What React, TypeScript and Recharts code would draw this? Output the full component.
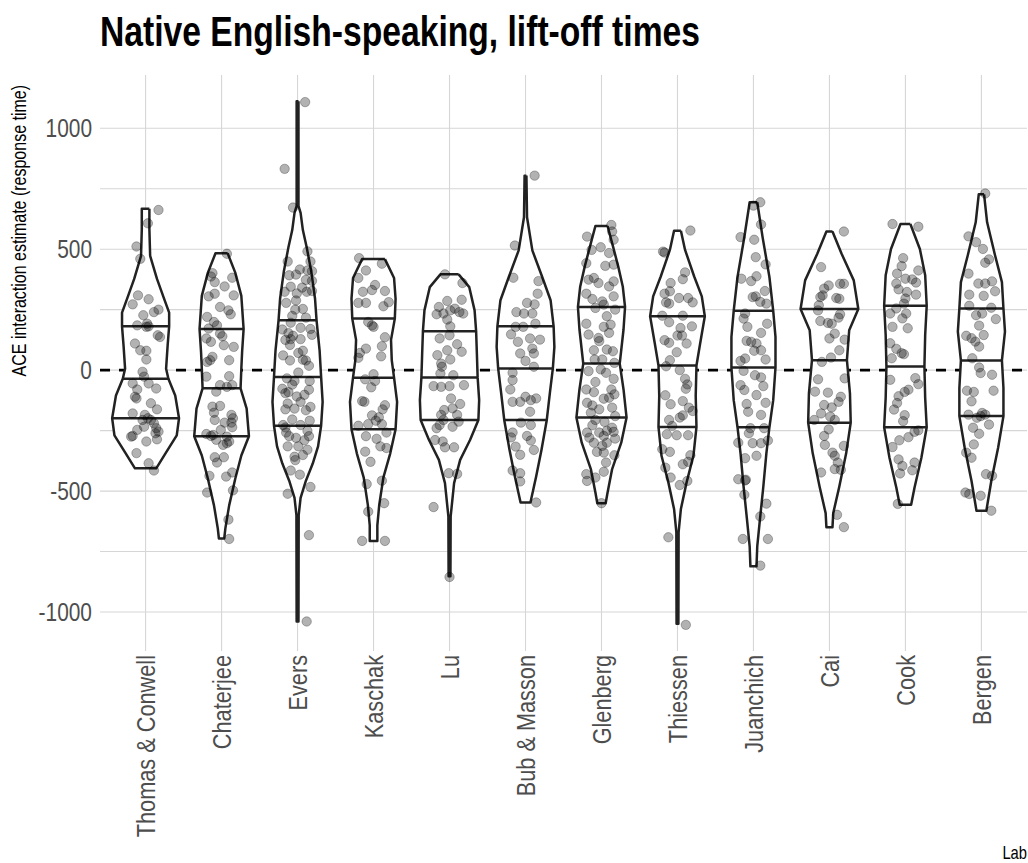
import React from 'react';
import { ScatterChart, Scatter, XAxis, YAxis, CartesianGrid } from 'recharts';

const labs = [
  'Thomas & Conwell', 'Chaterjee', 'Evers', 'Kaschak', 'Lu', 'Bub & Masson',
  'Glenberg', 'Thiessen', 'Juanchich', 'Cai', 'Cook', 'Bergen',
];
const labTicks = [1, 2, 3, 4, 5, 6, 7, 8, 9, 10, 11, 12];
const yTicks = [-1000, -750, -500, -250, 0, 250, 500, 750, 1000];
const yDomain = [-1161, 1220];
const xDomain = [0.4, 12.6];

// violin outlines: [estimate, half width in lab units], top to bottom
const violinThomas = [[667,0.05],[582,0.05],[472,0.06],[377,0.15],[307,0.23],[238,0.31],[181,0.31],[101,0.29],[6,0.27],[-36,0.30],[-105,0.39],[-199,0.44],[-270,0.41],[-340,0.27],[-406,0.14]];
const violinChaterjee = [[483,0.08],[403,0.18],[307,0.26],[170,0.29],[74,0.27],[6,0.26],[-75,0.25],[-159,0.33],[-273,0.36],[-353,0.26],[-449,0.18],[-559,0.10],[-654,0.05],[-696,0.035]];
const violinEvers = [[1112,0.012],[679,0.012],[650,0.04],[579,0.07],[508,0.12],[409,0.18],[295,0.23],[206,0.25],[82,0.29],[-28,0.31],[-131,0.33],[-230,0.31],[-315,0.27],[-386,0.20],[-457,0.11],[-528,0.04],[-599,0.015],[-1039,0.012]];
const violinKaschak = [[459,0.15],[381,0.27],[295,0.29],[213,0.28],[125,0.23],[40,0.24],[-31,0.27],[-131,0.31],[-244,0.29],[-344,0.22],[-443,0.13],[-557,0.075],[-642,0.05],[-706,0.05]];
const violinLu = [[396,0.12],[343,0.26],[247,0.33],[161,0.35],[69,0.36],[-30,0.37],[-124,0.39],[-206,0.38],[-289,0.27],[-371,0.14],[-467,0.06],[-605,0.015],[-852,0.012]];
const violinBub = [[804,0.012],[632,0.02],[495,0.09],[385,0.22],[289,0.33],[181,0.37],[96,0.38],[7,0.36],[-96,0.32],[-206,0.28],[-330,0.21],[-440,0.14],[-547,0.065]];
const violinGlenberg = [[596,0.08],[525,0.14],[429,0.22],[346,0.28],[261,0.31],[168,0.29],[27,0.24],[-80,0.29],[-196,0.33],[-300,0.26],[-409,0.14],[-506,0.08],[-550,0.055]];
const violinThiessen = [[576,0.045],[497,0.10],[387,0.22],[305,0.32],[223,0.36],[113,0.30],[19,0.25],[-107,0.24],[-235,0.25],[-354,0.21],[-464,0.12],[-574,0.045],[-670,0.015],[-1048,0.012]];
const violinJuanchich = [[694,0.05],[550,0.12],[385,0.21],[245,0.26],[137,0.29],[11,0.29],[-124,0.26],[-236,0.21],[-344,0.17],[-481,0.13],[-618,0.085],[-728,0.05],[-811,0.04]];
const violinCai = [[573,0.04],[481,0.16],[371,0.32],[253,0.38],[165,0.26],[41,0.23],[-96,0.27],[-217,0.28],[-344,0.22],[-481,0.13],[-591,0.05],[-649,0.04]];
const violinCook = [[604,0.065],[501,0.19],[392,0.26],[266,0.28],[145,0.26],[15,0.25],[-115,0.26],[-236,0.28],[-362,0.21],[-485,0.12],[-556,0.075]];
const violinBergen = [[727,0.035],[611,0.075],[474,0.18],[364,0.27],[255,0.29],[159,0.31],[40,0.27],[-74,0.29],[-190,0.29],[-321,0.22],[-458,0.13],[-581,0.065]];

// quartile lines: [estimate, half width]
const quartThomas = [[181,0.31],[-36,0.30],[-199,0.44]];
const quartChaterjee = [[170,0.29],[-75,0.25],[-273,0.36]];
const quartEvers = [[206,0.25],[-28,0.31],[-230,0.31]];
const quartKaschak = [[213,0.28],[-31,0.27],[-244,0.29]];
const quartLu = [[161,0.35],[-30,0.37],[-206,0.38]];
const quartBub = [[181,0.37],[7,0.36],[-206,0.28]];
const quartGlenberg = [[261,0.31],[27,0.24],[-196,0.33]];
const quartThiessen = [[223,0.36],[19,0.25],[-235,0.25]];
const quartJuanchich = [[245,0.26],[11,0.29],[-236,0.21]];
const quartCai = [[253,0.38],[41,0.23],[-217,0.28]];
const quartCook = [[266,0.28],[15,0.25],[-236,0.28]];
const quartBergen = [[255,0.29],[40,0.27],[-190,0.29]];

// jittered estimates: [horizontal jitter, estimate]
const ptsThomas = [[0.17,662],[0.03,607],[-0.12,511],[-0.07,460],[-0.10,309],[-0.17,272],[0.04,293],[-0.03,227],[0.11,240],[0.17,250],[0.02,192],[0.01,179],[0.04,181],[-0.11,185],[0.16,144],[0.19,137],[-0.14,110],[-0.07,82],[0.01,80],[0.01,44],[-0.04,-7],[-0.02,-27],[-0.17,-55],[0.04,-55],[0.14,-76],[-0.11,-80],[-0.14,-110],[-0.12,-117],[0.07,-137],[0.15,-162],[-0.17,-179],[-0.01,-185],[0.03,-199],[-0.04,-206],[0.11,-220],[0.14,-240],[0.17,-254],[-0.19,-275],[-0.11,-247],[0.01,-295],[0.15,-286],[-0.12,-343],[0.04,-385],[0.11,-415],[-0.17,-272],[0.13,-261],[-0.02,-234],[0.07,-206]];
const ptsChaterjee = [[0.07,481],[-0.12,401],[-0.14,387],[-0.09,364],[0.04,346],[0.14,382],[-0.17,305],[-0.09,316],[0.16,309],[-0.02,261],[0.09,247],[0.12,231],[-0.19,220],[-0.10,199],[-0.06,185],[-0.17,172],[-0.02,151],[0.01,140],[-0.14,117],[0.03,103],[0.16,96],[-0.12,55],[-0.19,34],[-0.15,41],[0.10,41],[0.10,-25],[-0.20,-27],[-0.02,-62],[0.07,-69],[0.14,-62],[-0.07,-89],[-0.12,-151],[-0.02,-148],[-0.10,-176],[0.13,-185],[0.15,-199],[-0.09,-206],[0.04,-217],[0.14,-236],[-0.01,-247],[-0.20,-264],[-0.14,-272],[-0.11,-268],[0.07,-275],[-0.07,-288],[0.07,-302],[0.02,-309],[0.10,-295],[-0.09,-360],[0.03,-360],[-0.06,-382],[-0.16,-437],[0.06,-440],[0.14,-423],[-0.19,-506],[0.15,-497],[0.09,-618],[0.10,-698],[0.13,-217],[-0.20,131]];
const ptsEvers = [[0.10,1108],[-0.17,832],[-0.06,672],[0.13,491],[-0.13,449],[0.17,449],[0.03,416],[0.13,412],[-0.11,392],[-0.02,395],[0.19,409],[0.11,373],[-0.09,345],[0.06,341],[0.19,327],[-0.17,324],[-0.01,317],[0.12,324],[-0.02,288],[-0.15,278],[-0.03,250],[0.11,217],[-0.09,196],[0.04,175],[0.17,170],[-0.12,153],[-0.06,142],[-0.09,128],[0.04,128],[0.19,146],[-0.16,125],[-0.10,104],[0.07,80],[-0.19,61],[-0.10,40],[0.07,43],[0.11,40],[0.15,18],[0.01,-10],[-0.14,-34],[-0.04,-45],[0.16,-45],[-0.20,-77],[-0.12,-91],[-0.16,-95],[0.15,-81],[-0.01,-109],[0.04,-131],[0.17,-152],[-0.16,-162],[-0.04,-159],[0.11,-166],[-0.07,-204],[-0.19,-227],[-0.16,-237],[0.16,-209],[0.04,-227],[0.13,-251],[-0.11,-273],[-0.02,-280],[0.09,-290],[-0.13,-315],[0.01,-315],[0.07,-351],[-0.03,-372],[-0.09,-415],[0.03,-432],[-0.13,-511],[0.17,-483],[0.15,-682],[0.12,-1039],[-0.07,224],[0.07,253],[-0.13,-138],[0.13,-329],[-0.04,-358],[0.19,369],[-0.20,168],[0.01,71],[-0.07,-60],[0.09,-102],[-0.15,-258],[0.15,-273]];
const ptsKaschak = [[-0.19,463],[0.11,440],[-0.10,412],[-0.20,381],[0.02,352],[-0.14,324],[-0.02,331],[0.15,327],[-0.20,278],[-0.10,278],[0.20,281],[0.13,264],[-0.07,199],[-0.02,185],[0.00,179],[0.15,136],[0.11,99],[-0.10,89],[-0.20,51],[0.10,57],[-0.11,-38],[0.00,-17],[0.02,-45],[-0.03,-71],[-0.15,-128],[-0.12,-131],[0.15,-145],[0.12,-162],[-0.02,-187],[0.07,-195],[0.03,-209],[-0.20,-230],[-0.07,-223],[0.17,-258],[0.11,-223],[-0.10,-273],[0.09,-315],[0.17,-322],[-0.11,-337],[-0.04,-379],[-0.09,-471],[0.11,-457],[0.14,-550],[-0.07,-585],[-0.15,-706],[0.15,-706],[0.04,-284],[-0.18,71]];
const ptsLu = [[-0.06,396],[0.17,360],[-0.03,286],[0.16,291],[-0.14,261],[-0.17,231],[-0.08,234],[0.01,247],[0.07,254],[0.13,240],[0.18,234],[0.01,181],[0.00,144],[-0.13,131],[0.10,107],[0.16,76],[-0.16,62],[-0.03,82],[0.01,44],[-0.11,27],[-0.10,14],[-0.12,-14],[0.05,-21],[-0.21,-66],[-0.11,-69],[0.00,-66],[0.19,-62],[0.02,-117],[0.14,-140],[-0.07,-165],[0.04,-158],[-0.11,-185],[0.10,-185],[-0.08,-206],[0.12,-213],[-0.17,-240],[-0.13,-227],[-0.19,-289],[-0.09,-295],[0.06,-319],[-0.06,-319],[-0.01,-426],[0.10,-429],[-0.21,-566],[0.00,-855],[-0.03,209],[0.04,-234]];
const ptsBub = [[0.12,804],[-0.14,515],[-0.16,382],[0.17,368],[0.16,316],[0.02,278],[0.12,272],[-0.12,240],[-0.02,234],[0.09,234],[0.13,192],[-0.13,179],[-0.03,179],[-0.19,148],[-0.10,117],[0.06,131],[0.19,126],[0.09,89],[-0.07,69],[0.00,38],[0.11,14],[-0.17,-11],[-0.17,-41],[-0.20,-80],[0.00,-110],[0.14,-117],[-0.17,-131],[-0.07,-131],[0.07,-124],[0.06,-172],[-0.06,-217],[0.07,-227],[-0.17,-258],[-0.19,-278],[0.02,-272],[0.07,-291],[-0.13,-316],[0.11,-330],[-0.07,-350],[-0.17,-415],[-0.07,-460],[0.14,-547],[-0.07,-426],[0.11,69]];
const ptsGlenberg = [[0.13,600],[-0.19,552],[0.14,573],[0.16,539],[-0.13,497],[-0.01,508],[-0.20,442],[0.05,431],[0.16,436],[-0.10,381],[-0.04,360],[0.10,346],[0.16,367],[-0.20,316],[-0.12,294],[0.01,284],[0.03,271],[-0.08,257],[0.16,305],[0.18,250],[0.07,223],[-0.20,192],[0.03,179],[0.12,188],[-0.17,147],[-0.04,133],[-0.03,120],[0.10,154],[-0.10,82],[0.15,78],[0.07,85],[0.01,44],[0.17,30],[-0.17,-4],[-0.01,3],[0.06,-11],[0.16,-36],[-0.08,-49],[-0.20,-80],[-0.10,-91],[0.13,-80],[0.17,-100],[0.03,-118],[0.10,-114],[-0.19,-135],[-0.12,-146],[0.14,-155],[-0.03,-162],[0.18,-190],[-0.08,-206],[0.04,-214],[-0.12,-228],[0.14,-238],[-0.19,-258],[-0.03,-258],[0.07,-251],[0.16,-255],[0.03,-272],[-0.16,-279],[-0.10,-300],[0.01,-313],[0.07,-300],[0.18,-283],[-0.06,-338],[0.17,-352],[0.06,-382],[0.03,-420],[-0.20,-430],[-0.08,-444],[-0.19,-458],[0.00,-550],[0.03,-341],[-0.17,374],[0.10,484],[-0.09,44],[-0.14,-176]];
const ptsThiessen = [[0.17,577],[-0.19,490],[-0.17,486],[0.10,404],[0.07,376],[-0.09,360],[-0.10,326],[-0.15,280],[-0.11,275],[0.02,298],[0.14,298],[0.20,280],[-0.20,225],[0.07,225],[-0.11,198],[0.04,174],[0.19,181],[-0.17,124],[-0.11,113],[0.00,143],[0.12,110],[-0.01,74],[-0.15,16],[-0.10,41],[0.03,0],[0.10,-36],[0.13,-59],[0.11,-77],[-0.16,-104],[-0.09,-141],[0.07,-128],[0.15,-155],[0.20,-169],[0.03,-196],[0.07,-187],[-0.11,-206],[0.14,-269],[-0.14,-265],[-0.01,-269],[-0.20,-327],[-0.10,-338],[0.17,-352],[0.14,-379],[0.07,-389],[-0.16,-403],[-0.09,-444],[0.03,-475],[0.13,-458],[-0.12,-691],[0.11,-1053],[0.06,143],[-0.07,-231],[-0.17,316]];
const ptsJuanchich = [[0.09,694],[0.00,680],[0.10,602],[-0.17,550],[0.01,539],[0.03,467],[0.16,437],[-0.16,378],[-0.03,368],[0.04,388],[0.15,327],[-0.01,302],[0.03,305],[0.09,282],[0.17,275],[-0.11,234],[-0.13,213],[0.18,192],[-0.08,179],[0.10,154],[-0.09,121],[-0.03,117],[0.04,110],[0.10,82],[0.01,80],[-0.17,38],[-0.11,48],[0.16,44],[-0.13,-3],[0.02,-21],[0.10,-30],[-0.17,-62],[-0.12,-82],[0.13,-66],[0.04,-103],[0.16,-135],[-0.09,-140],[-0.07,-172],[0.10,-185],[-0.04,-240],[0.14,-240],[-0.20,-300],[-0.01,-302],[0.10,-302],[0.19,-291],[-0.06,-261],[0.04,-354],[-0.11,-364],[-0.20,-451],[-0.11,-456],[-0.12,-515],[0.17,-552],[0.09,-605],[-0.14,-698],[0.19,-698],[0.09,-808],[-0.10,-453]];
const ptsCai = [[0.19,573],[-0.11,426],[-0.01,350],[0.14,357],[0.19,357],[-0.07,337],[-0.12,302],[-0.09,309],[0.09,298],[0.13,295],[-0.15,247],[0.14,231],[0.12,217],[-0.12,203],[-0.02,195],[0.03,192],[0.07,151],[0.20,126],[0.00,131],[0.13,82],[0.02,52],[-0.10,34],[-0.15,-38],[0.20,-34],[-0.02,-93],[-0.19,-89],[0.15,-110],[0.12,-131],[-0.07,-144],[0.03,-154],[-0.11,-179],[0.01,-192],[0.07,-206],[-0.01,-245],[-0.07,-272],[-0.06,-309],[0.19,-313],[0.04,-341],[0.07,-354],[0.11,-382],[0.07,-409],[0.15,-412],[-0.11,-423],[0.10,-598],[0.19,-649],[-0.14,268],[-0.20,-206]];
const ptsCook = [[-0.17,604],[0.17,593],[-0.03,463],[-0.05,430],[0.17,412],[-0.11,399],[0.00,378],[0.09,375],[0.14,362],[-0.12,358],[-0.09,334],[0.02,323],[0.14,312],[-0.02,275],[-0.12,255],[-0.20,234],[0.01,234],[-0.04,214],[-0.17,179],[0.03,173],[-0.20,111],[-0.12,88],[-0.02,66],[-0.05,70],[-0.18,49],[-0.20,-40],[0.13,-33],[0.17,-58],[0.04,-81],[-0.01,-90],[-0.09,-108],[-0.11,-136],[-0.15,-163],[-0.01,-186],[-0.03,-211],[0.12,-255],[0.17,-249],[0.04,-277],[-0.08,-290],[-0.17,-318],[-0.09,-369],[0.12,-382],[-0.04,-396],[0.09,-414],[-0.07,-427],[-0.10,-553],[0.00,296]];
const ptsBergen = [[0.05,730],[-0.17,553],[-0.07,529],[0.02,501],[0.05,444],[0.10,458],[-0.17,399],[-0.04,358],[0.05,358],[0.14,367],[0.18,326],[-0.16,312],[0.03,307],[0.13,258],[-0.16,266],[-0.07,227],[0.01,234],[0.19,211],[-0.03,184],[-0.20,142],[-0.13,132],[-0.08,118],[0.03,145],[-0.03,97],[-0.12,49],[-0.03,11],[-0.01,-12],[0.14,-19],[0.16,-85],[-0.19,-85],[-0.10,-90],[-0.13,-129],[0.01,-177],[-0.01,-190],[-0.06,-197],[0.10,-225],[-0.17,-184],[-0.11,-238],[-0.03,-263],[-0.10,-307],[-0.20,-341],[-0.13,-362],[0.06,-430],[0.14,-437],[-0.21,-506],[-0.16,-512],[-0.01,-519],[0.13,-581],[0.05,-184]];

const violins = [violinThomas, violinChaterjee, violinEvers, violinKaschak, violinLu, violinBub, violinGlenberg, violinThiessen, violinJuanchich, violinCai, violinCook, violinBergen];
const quartiles = [quartThomas, quartChaterjee, quartEvers, quartKaschak, quartLu, quartBub, quartGlenberg, quartThiessen, quartJuanchich, quartCai, quartCook, quartBergen];
const points = [ptsThomas, ptsChaterjee, ptsEvers, ptsKaschak, ptsLu, ptsBub, ptsGlenberg, ptsThiessen, ptsJuanchich, ptsCai, ptsCook, ptsBergen];

const FONT = '"Liberation Sans", Arial, Helvetica, sans-serif';
const NARROW = 0.82;
const INK = '#222222';

// closed outline: right side going down, left side coming back up
const outline = (profile: number[][], pos: number) => {
  const right = profile.map(([v, w]) => ({ x: pos + w, y: v }));
  const left = [...profile].reverse().map(([v, w]) => ({ x: pos - w, y: v }));
  return [...right, ...left, right[0]];
};

const zeroLine = [{ x: xDomain[0], y: 0 }, { x: xDomain[1], y: 0 }];

// grid only at the tick values (no lines on the panel edges)
const hGrid = ({ offset }: any) =>
  yTicks.map((t) => offset.top + ((yDomain[1] - t) / (yDomain[1] - yDomain[0])) * offset.height);
const vGrid = ({ offset }: any) =>
  labTicks.map((t) => offset.left + ((t - xDomain[0]) / (xDomain[1] - xDomain[0])) * offset.width);

const noShape = () => <g />;

const dot = (p: any) => (
  <circle cx={p.cx} cy={p.cy} r={4.7} fill="#000" fillOpacity={0.3}
    stroke="#000" strokeOpacity={0.3} strokeWidth={0.9} />
);

const XTick = (props: any) => {
  const { x, payload } = props;
  const name = labs[payload.value - 1] ?? '';
  return (
    <g transform={`translate(${x},655) rotate(-90) scale(${NARROW},1)`}>
      <text x={0} y={0} dy="0.36em" textAnchor="end" fontFamily={FONT} fontSize={26.5} fill="#4d4d4d">
        {name}
      </text>
    </g>
  );
};

const YTick = (props: any) => {
  const { y, payload } = props;
  const v = payload.value;
  if (v % 500 !== 0) return <g />;
  return (
    <g transform={`translate(92,${y}) scale(${NARROW},1)`}>
      <text x={0} y={0} dy="0.36em" textAnchor="end" fontFamily={FONT} fontSize={25.5} fill="#4d4d4d">
        {v}
      </text>
    </g>
  );
};

export default function App() {
  return (
    <div style={{ position: 'relative', width: 1028, height: 863, background: '#fff' }}>
      <style>{'body{margin:0;}'}</style>
      <ScatterChart width={1028} height={863} margin={{ top: 75, right: 1, bottom: 32, left: 0 }}>
        <CartesianGrid stroke="#d6d6d6" strokeWidth={1.1}
          horizontalCoordinatesGenerator={hGrid} verticalCoordinatesGenerator={vGrid} />
        <XAxis type="number" dataKey="x" domain={xDomain} ticks={labTicks} interval={0}
          allowDataOverflow axisLine={false} tickLine={false} height={180} tick={<XTick />} />
        <YAxis type="number" dataKey="y" domain={yDomain} ticks={yTicks} interval={0}
          allowDataOverflow axisLine={false} tickLine={false} width={100} tick={<YTick />} />
        <Scatter data={zeroLine} isAnimationActive={false} shape={noShape} lineType="joint"
          line={{ stroke: '#000', strokeWidth: 2.6, strokeDasharray: '10 9', fill: 'none' }} />
        {violins.map((v, i) => (
          <Scatter key={`v${i}`} data={outline(v, i + 1)} isAnimationActive={false} shape={noShape}
            lineType="joint" line={{ stroke: INK, strokeWidth: 2.5, fill: '#ffffff', strokeLinejoin: 'round' }} />
        ))}
        {quartiles.map((q, i) =>
          q.map(([v, w], k) => (
            <Scatter key={`q${i}-${k}`} data={[{ x: i + 1 - w, y: v }, { x: i + 1 + w, y: v }]}
              isAnimationActive={false} shape={noShape} lineType="joint"
              line={{ stroke: INK, strokeWidth: 2.5, fill: 'none' }} />
          ))
        )}
        {points.map((pts, i) => (
          <Scatter key={`p${i}`} data={pts.map(([j, v]) => ({ x: i + 1 + j, y: v }))}
            isAnimationActive={false} shape={dot} />
        ))}
      </ScatterChart>
      <svg width={1028} height={863} style={{ position: 'absolute', left: 0, top: 0, pointerEvents: 'none' }}>
        <text x={100} y={46} fontFamily={FONT} fontWeight="bold" fontSize={42} fill="#000"
          textLength={600} lengthAdjust="spacingAndGlyphs">
          Native English-speaking, lift-off times
        </text>
        <g transform={`translate(26,85) rotate(-90) scale(${NARROW},1)`}>
          <text x={0} y={0} textAnchor="end" fontFamily={FONT} fontSize={19.5} fill="#000">
            ACE interaction estimate (response time)
          </text>
        </g>
        <g transform={`translate(1027,859) scale(${NARROW},1)`}>
          <text x={0} y={0} textAnchor="end" fontFamily={FONT} fontSize={18} fill="#000">
            Lab
          </text>
        </g>
      </svg>
    </div>
  );
}
